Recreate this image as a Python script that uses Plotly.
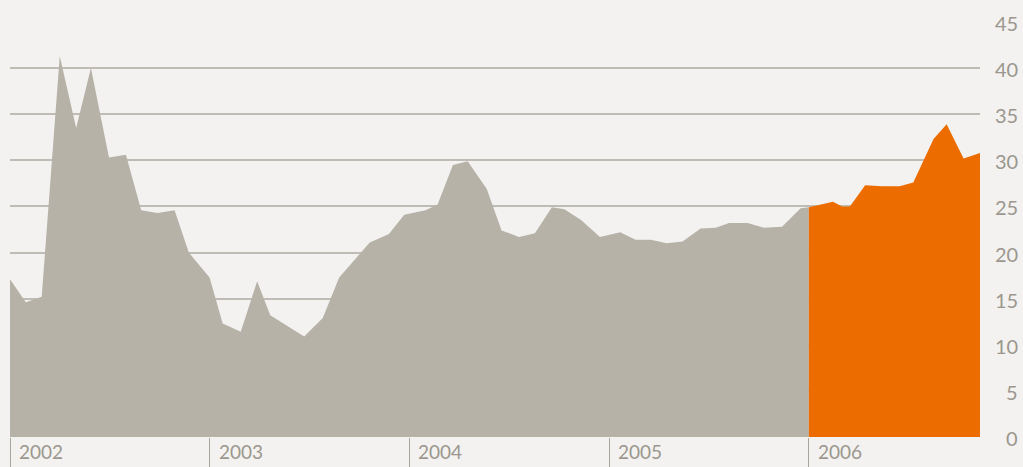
import plotly.graph_objects as go

# ---- data ----
grey_dates = [
    "2002-01-01", "2002-01-30", "2002-02-28", "2002-04-02", "2002-05-02", "2002-05-29",
    "2002-07-01", "2002-08-01", "2002-08-29", "2002-09-28", "2002-10-29", "2002-11-24",
    "2003-01-01", "2003-01-25", "2003-02-27", "2003-03-29", "2003-04-22", "2003-05-24",
    "2003-06-23", "2003-07-27", "2003-08-26", "2003-10-21", "2003-11-25", "2003-12-23",
    "2004-01-31", "2004-02-22", "2004-03-21", "2004-04-17", "2004-05-22", "2004-06-18",
    "2004-07-20", "2004-08-18", "2004-09-18", "2004-10-11", "2004-11-11", "2004-12-15",
    "2005-01-21", "2005-02-18", "2005-03-18", "2005-04-16", "2005-05-15", "2005-06-17",
    "2005-07-15", "2005-08-08", "2005-09-11", "2005-10-11", "2005-11-13", "2005-12-17",
    "2006-01-01",
]
grey_values = [
    17.1, 14.6, 15.2, 41.3, 33.5, 40.0,
    30.3, 30.6, 24.6, 24.3, 24.6, 20.0,
    17.3, 12.3, 11.4, 16.9, 13.2, 12.0,
    10.9, 12.9, 17.3, 21.1, 22.0, 24.1,
    24.6, 25.2, 29.5, 29.9, 26.9, 22.4,
    21.7, 22.1, 24.9, 24.7, 23.5, 21.7,
    22.2, 21.4, 21.4, 21.0, 21.2, 22.6,
    22.7, 23.2, 23.2, 22.7, 22.8, 24.8,
    24.9,
]
orange_dates = [
    "2006-01-01", "2006-02-14", "2006-03-03", "2006-03-17", "2006-04-14", "2006-05-15",
    "2006-06-16", "2006-07-11", "2006-08-17", "2006-09-10", "2006-10-11", "2006-11-10",
]
orange_values = [
    24.9, 25.5, 25.0, 25.0, 27.3, 27.2,
    27.2, 27.6, 32.3, 33.9, 30.2, 30.8,
]
year_ticks = ["2002-01-01", "2003-01-01", "2004-01-01", "2005-01-01", "2006-01-01"]
year_labels = ["2002", "2003", "2004", "2005", "2006"]
y_ticks = [0, 5, 10, 15, 20, 25, 30, 35, 40, 45]
y_labels = ["0", "5", "10", "15", "20", "25", "30", "35", "40", "45"]

# ---- styles ----
BG = "#f3f2f0"
GREY = "#b6b2a8"
ORANGE = "#ec6c00"
GRID = "#bfbcb5"
TEXT = "#9b978e"
FONT = "Lato"

fig = go.Figure()
fig.add_trace(go.Scatter(
    x=grey_dates, y=grey_values, mode="lines", fill="tozeroy",
    line=dict(width=0, color=GREY), fillcolor=GREY, hoverinfo="skip",
))
fig.add_trace(go.Scatter(
    x=orange_dates, y=orange_values, mode="lines", fill="tozeroy",
    line=dict(width=0, color=ORANGE), fillcolor=ORANGE, hoverinfo="skip",
))

annotations = []
for d, lab in zip(year_ticks, year_labels):
    annotations.append(dict(
        x=d, xref="x", y=0, yref="paper", text=lab, showarrow=False,
        xanchor="left", yanchor="middle", xshift=7, yshift=-14,
        font=dict(family=FONT, size=19, color=TEXT),
    ))
for v, lab in zip(y_ticks, y_labels):
    annotations.append(dict(
        x=1, xref="paper", y=v, yref="y", text=lab, showarrow=False,
        xanchor="right", yanchor="middle", xshift=40, yshift=-1,
        font=dict(family=FONT, size=20, color=TEXT),
    ))

fig.update_layout(
    width=1023, height=467,
    margin=dict(l=10, r=43, t=22, b=30, autoexpand=False),
    paper_bgcolor=BG, plot_bgcolor=BG,
    showlegend=False,
    annotations=annotations,
    xaxis=dict(
        type="date", range=["2002-01-01", "2006-11-10"],
        tickvals=year_ticks, showticklabels=False, automargin=False,
        ticks="outside", ticklen=30, tickwidth=1, tickcolor="#aaa69d",
        showgrid=False, zeroline=False, showline=False,
    ),
    yaxis=dict(
        range=[0, 45], tickvals=y_ticks, showticklabels=False, automargin=False,
        showgrid=True, gridcolor=GRID, gridwidth=1.5,
        zeroline=False, showline=False, ticks="",
    ),
)

fig.write_html(
    "out.html",
    config={"displayModeBar": False},
    post_script="document.body.style.margin='0';document.body.style.overflow='hidden';",
)
